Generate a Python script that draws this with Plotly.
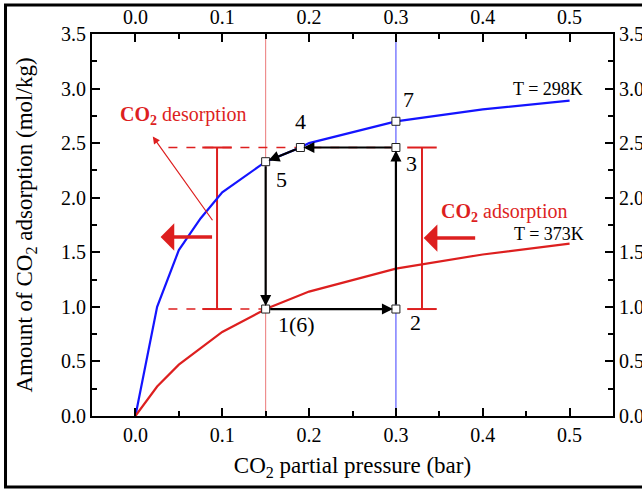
import plotly.graph_objects as go

# ---------------- data ----------------
pressure_298 = [0.0, 0.025, 0.05, 0.075, 0.1, 0.15, 0.19, 0.2, 0.3, 0.4, 0.5]
uptake_298 = [0.0, 1.0, 1.52, 1.81, 2.05, 2.33, 2.46, 2.5, 2.7, 2.81, 2.89]

pressure_373 = [0.0, 0.025, 0.05, 0.1, 0.15, 0.2, 0.3, 0.4, 0.5]
uptake_373 = [0.0, 0.27, 0.47, 0.77, 0.98, 1.14, 1.35, 1.48, 1.58]

# cycle states 1(6), 2, 3, 4, 5 and point 7
state_labels = ["1(6)", "2", "3", "4", "5", "7"]
state_x = [0.15, 0.30, 0.30, 0.19, 0.15, 0.30]
state_y = [0.98, 0.98, 2.46, 2.46, 2.33, 2.70]
label_x = [0.186, 0.322, 0.318, 0.19, 0.168, 0.315]
label_y = [0.84, 0.86, 2.31, 2.70, 2.17, 2.90]

feed_pressure = [0.15, 0.30]           # vertical guide lines
working_range = [0.98, 2.46]           # bracket limits
bracket_x = [0.094, 0.33]
bracket_half = 0.017
guide_start_x = 0.038

x_ticks = [0.0, 0.1, 0.2, 0.3, 0.4, 0.5]
y_ticks = [0.0, 0.5, 1.0, 1.5, 2.0, 2.5, 3.0, 3.5]

BLUE = "#1414ff"
RED = "#dd1f1f"
FONT = "Liberation Serif"

fig = go.Figure()

# vertical guide lines
fig.add_trace(go.Scatter(x=[feed_pressure[0]] * 2, y=[0, 3.5], mode="lines",
                         line=dict(color="rgba(221,31,31,0.6)", width=1), showlegend=False, hoverinfo="skip"))
fig.add_trace(go.Scatter(x=[feed_pressure[1]] * 2, y=[0, 3.5], mode="lines",
                         line=dict(color="rgba(40,40,255,0.75)", width=1.2), showlegend=False, hoverinfo="skip"))

# dashed red guides
fig.add_trace(go.Scatter(x=[guide_start_x, state_x[2]], y=[working_range[1]] * 2, mode="lines",
                         line=dict(color=RED, width=1.4, dash="dash"), showlegend=False, hoverinfo="skip"))
fig.add_trace(go.Scatter(x=[guide_start_x, state_x[0]], y=[working_range[0]] * 2, mode="lines",
                         line=dict(color=RED, width=1.4, dash="dash"), showlegend=False, hoverinfo="skip"))

# brackets
for bx in bracket_x:
    fig.add_trace(go.Scatter(
        x=[bx - bracket_half, bx + bracket_half, None, bx, bx, None, bx - bracket_half, bx + bracket_half],
        y=[working_range[1], working_range[1], None, working_range[1], working_range[0], None,
           working_range[0], working_range[0]],
        mode="lines", line=dict(color=RED, width=2), showlegend=False, hoverinfo="skip"))

# isotherms
fig.add_trace(go.Scatter(x=pressure_298, y=uptake_298, mode="lines",
                         line=dict(color=BLUE, width=2.2), showlegend=False))
fig.add_trace(go.Scatter(x=pressure_373, y=uptake_373, mode="lines",
                         line=dict(color=RED, width=2.2), showlegend=False))

# state markers
fig.add_trace(go.Scatter(x=state_x, y=state_y, mode="markers",
                         marker=dict(symbol="square", size=8, color="white",
                                     line=dict(color="#222", width=1)),
                         showlegend=False))

# dummy trace for the mirrored axes
fig.add_trace(go.Scatter(x=[0], y=[0], xaxis="x2", yaxis="y2", mode="markers",
                         marker=dict(opacity=0), showlegend=False, hoverinfo="skip"))

annotations = []
# cycle arrows 1->2->3->4->5->1
order = [0, 1, 2, 3, 4, 0]
for a, b in zip(order[:-1], order[1:]):
    annotations.append(dict(x=state_x[b], y=state_y[b], ax=state_x[a], ay=state_y[a],
                            xref="x", yref="y", axref="x", ayref="y", text="",
                            showarrow=True, arrowhead=2, arrowsize=1.0, arrowwidth=2.2,
                            arrowcolor="black", standoff=3, startstandoff=3))

# state labels
for t, lx, ly in zip(state_labels, label_x, label_y):
    annotations.append(dict(x=lx, y=ly, xref="x", yref="y", text=t, showarrow=False,
                            font=dict(family=FONT, size=22, color="black")))

# big red arrows
annotations.append(dict(x=0.029, y=1.64, ax=0.09, ay=1.64, xref="x", yref="y", axref="x", ayref="y",
                        text="", showarrow=True, arrowhead=1, arrowsize=1.3, arrowwidth=3.5, arrowcolor=RED))
annotations.append(dict(x=0.332, y=1.63, ax=0.393, ay=1.63, xref="x", yref="y", axref="x", ayref="y",
                        text="", showarrow=True, arrowhead=1, arrowsize=1.3, arrowwidth=3.5, arrowcolor=RED))
# thin pointer to the desorption text
annotations.append(dict(x=0.02, y=2.56, ax=0.09, ay=1.78, xref="x", yref="y", axref="x", ayref="y",
                        text="", showarrow=True, arrowhead=2, arrowsize=1.2, arrowwidth=1.2, arrowcolor=RED))

# texts
annotations.append(dict(x=0.055, y=2.75, xref="x", yref="y", showarrow=False,
                        text="<b>CO<sub>2</sub></b> desorption", font=dict(family=FONT, size=20, color=RED)))
annotations.append(dict(x=0.425, y=1.86, xref="x", yref="y", showarrow=False,
                        text="<b>CO<sub>2</sub></b> adsorption", font=dict(family=FONT, size=20, color=RED)))
annotations.append(dict(x=0.475, y=3.0, xref="x", yref="y", showarrow=False,
                        text="T = 298K", font=dict(family=FONT, size=18, color="black")))
annotations.append(dict(x=0.476, y=1.67, xref="x", yref="y", showarrow=False,
                        text="T = 373K", font=dict(family=FONT, size=18, color="black")))

tickfont = dict(family=FONT, size=20, color="black")
common_x = dict(range=[-0.05, 0.55], tickvals=x_ticks, tickformat=".1f", ticks="inside", ticklen=8,
                tickwidth=1.5, tickcolor="black", showgrid=False, zeroline=False, tickfont=tickfont,
                minor=dict(dtick=0.05, ticks="inside", ticklen=5, tickwidth=1.5, tickcolor="black",
                           tick0=0, showgrid=False),
                showline=True, linecolor="black", linewidth=2, automargin=False)
common_y = dict(range=[0, 3.5], tickvals=y_ticks, tickformat=".1f", ticks="inside", ticklen=8,
                tickwidth=1.5, tickcolor="black", showgrid=False, zeroline=False, tickfont=tickfont,
                minor=dict(dtick=0.25, ticks="inside", ticklen=5, tickwidth=1.5, tickcolor="black",
                           tick0=0, showgrid=False),
                showline=True, linecolor="black", linewidth=2, automargin=False)

fig.update_layout(
    template="none",
    width=642, height=489,
    margin=dict(l=92, r=29, t=34, b=73, autoexpand=False),
    plot_bgcolor="white", paper_bgcolor="white",
    font=dict(family=FONT, color="black"),
    showlegend=False,
    xaxis=dict(**common_x,
               title=dict(text="CO<sub>2</sub> partial pressure (bar)", font=dict(family=FONT, size=23),
                          standoff=12)),
    yaxis=dict(**common_y,
               title=dict(text="Amount of CO<sub>2</sub> adsorption (mol/kg)", font=dict(family=FONT, size=23),
                          standoff=22)),
    xaxis2=dict(**common_x, overlaying="x", side="top", anchor="y"),
    yaxis2=dict(**common_y, overlaying="y", side="right", anchor="x"),
    annotations=annotations,
    shapes=[dict(type="rect", xref="paper", yref="paper", x0=-0.166, x1=1.2, y0=-0.186, y1=1.076,
                 line=dict(color="black", width=3), layer="above")],
)

fig.write_html("out.html", config={"displayModeBar": False},
               post_script="document.body.style.margin='0';")
